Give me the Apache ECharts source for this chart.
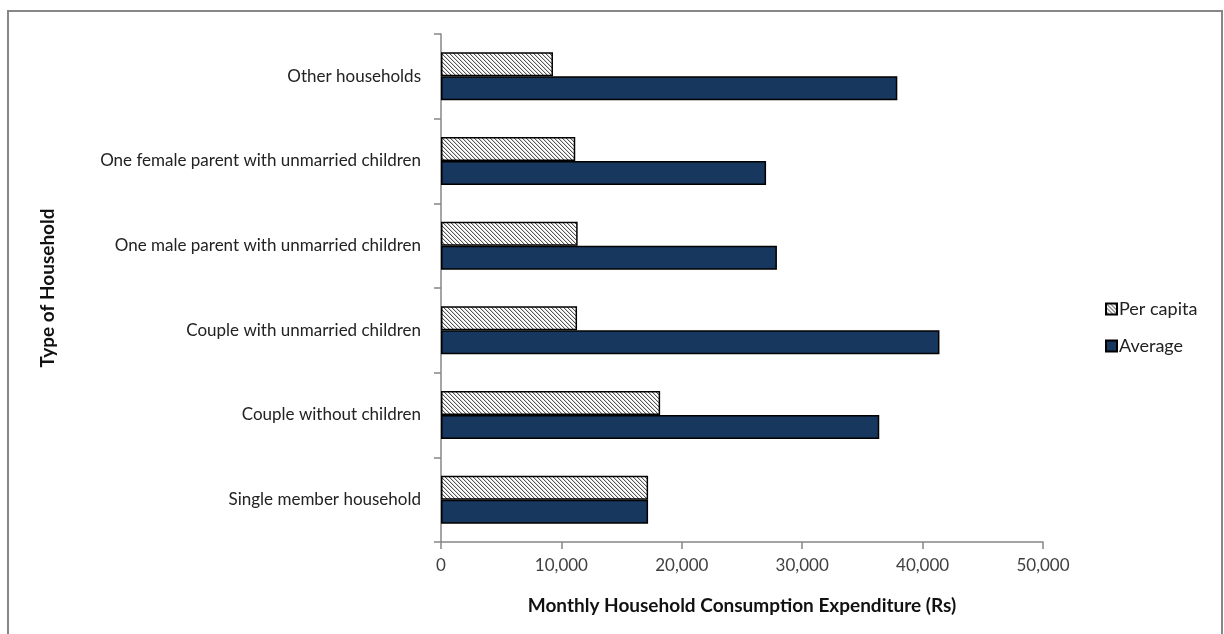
<!DOCTYPE html>
<html>
<head>
<meta charset="utf-8">
<script src="https://cdn.jsdelivr.net/npm/echarts@6/dist/echarts.min.js"></script>
<style>
  html, body { margin: 0; padding: 0; background: #ffffff; }
  #chart { width: 1224px; height: 634px; }
</style>
</head>
<body>
<div id="chart"></div>
<script>
// Household types, bottom to top on the category axis
const categories = [
  'Single member household',
  'Couple without children',
  'Couple with unmarried children',
  'One male parent with unmarried children',
  'One female parent with unmarried children',
  'Other households'
];
// Monthly consumption expenditure (Rs)
const perCapita = [17200, 18200, 11300, 11350, 11150, 9300];
const average   = [17200, 36400, 41400, 27900, 27000, 37900];
const xTicks = [0, 10000, 20000, 30000, 40000, 50000];

// Fine diagonal hatch used for the per-capita bars
function hatchPattern() {
  const c = document.createElement('canvas');
  c.width = 4; c.height = 4;
  const ctx = c.getContext('2d');
  ctx.fillStyle = '#ffffff';
  ctx.fillRect(0, 0, 4, 4);
  for (let i = 0; i < 4; i++) {
    ctx.fillStyle = '#555555';
    ctx.fillRect(i, i, 1, 1);
    ctx.fillStyle = '#d4d4d4';
    ctx.fillRect((i + 1) % 4, i, 1, 1);
  }
  return c;
}

const labelFont = 'Lato, sans-serif';
const chart = echarts.init(document.getElementById('chart'), null, { renderer: 'canvas' });

chart.setOption({
  backgroundColor: '#ffffff',
  animation: false,
  graphic: [{
    type: 'rect',
    shape: { x: 8, y: 11, width: 1214, height: 650 },
    style: { fill: 'none', stroke: '#878787', lineWidth: 2 },
    silent: true
  }],
  grid: { left: 441, right: 181, top: 34, bottom: 92, containLabel: false },
  legend: {
    orient: 'vertical',
    left: 1100,
    top: 295,
    icon: 'rect',
    itemWidth: 11,
    itemHeight: 11,
    itemGap: 19,
    data: ['Per capita', 'Average'],
    textStyle: { fontFamily: labelFont, fontSize: 18, color: '#222222', padding: [0, 0, 0, -3] }
  },
  xAxis: {
    type: 'value',
    min: 0,
    max: 50000,
    interval: 10000,
    name: 'Monthly Household Consumption Expenditure (Rs)',
    nameLocation: 'middle',
    nameGap: 54,
    nameTextStyle: { fontFamily: labelFont, fontSize: 19, fontWeight: 'bold', color: '#111111' },
    axisLine: { show: true, lineStyle: { color: '#878787', width: 1.5 } },
    axisTick: { show: true, length: 7, lineStyle: { color: '#878787', width: 1.5 } },
    splitLine: { show: false },
    axisLabel: {
      margin: 15,
      fontFamily: labelFont,
      fontSize: 17,
      color: '#404040',
      formatter: v => xTicks.includes(v) ? v.toLocaleString('en-US') : ''
    }
  },
  yAxis: {
    type: 'category',
    data: categories,
    name: 'Type of Household',
    nameLocation: 'middle',
    nameGap: 384,
    nameRotate: 90,
    nameTextStyle: { fontFamily: labelFont, fontSize: 19, fontWeight: 'bold', color: '#111111' },
    axisLine: { show: true, lineStyle: { color: '#878787', width: 1.5 } },
    axisTick: { show: true, length: 7, alignWithLabel: false, lineStyle: { color: '#878787', width: 1.5 } },
    axisLabel: { margin: 20, fontFamily: labelFont, fontSize: 17, color: '#222222' },
    splitLine: { show: false }
  },
  series: [
    {
      name: 'Per capita',
      type: 'bar',
      data: perCapita,
      barWidth: 24,
      barGap: '0%',
      barCategoryGap: '43%',
      itemStyle: {
        color: { image: hatchPattern(), repeat: 'repeat' },
        borderColor: '#000000',
        borderWidth: 1.5
      }
    },
    {
      name: 'Average',
      type: 'bar',
      data: average,
      barWidth: 24,
      barGap: '0%',
      itemStyle: { color: '#17375E', borderColor: '#000000', borderWidth: 1.5 }
    }
  ]
});
</script>
</body>
</html>
